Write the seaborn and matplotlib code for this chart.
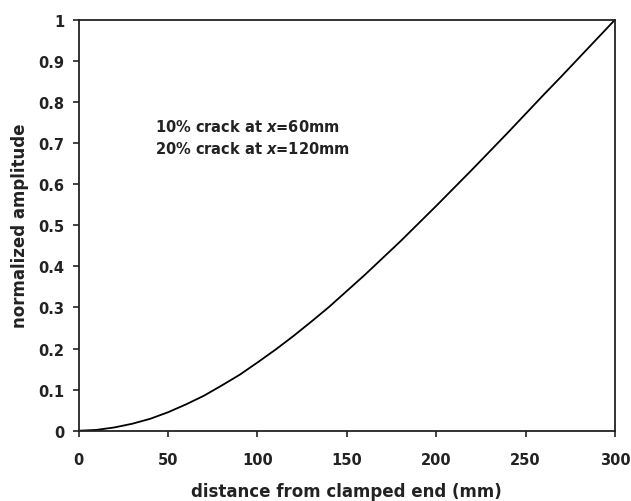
import matplotlib
matplotlib.use("Agg")
import matplotlib.pyplot as plt
import seaborn as sns
import pandas as pd

# distance from clamped end (mm)
distance_mm = [0, 10, 20, 30, 40, 50, 60, 70, 80, 90, 100, 110, 120, 130, 140, 150,
               160, 170, 180, 190, 200, 210, 220, 230, 240, 250, 260, 270, 280, 290, 300]
# normalized amplitude
amplitude = [0.000, 0.002, 0.008, 0.017, 0.029, 0.045, 0.064, 0.085, 0.110, 0.136, 0.166,
             0.197, 0.230, 0.265, 0.301, 0.340, 0.379, 0.420, 0.461, 0.504, 0.547, 0.591,
             0.635, 0.680, 0.725, 0.771, 0.817, 0.862, 0.908, 0.954, 1.000]
x_ticks = [0, 50, 100, 150, 200, 250, 300]
y_ticks = [0, 0.1, 0.2, 0.3, 0.4, 0.5, 0.6, 0.7, 0.8, 0.9, 1]
y_tick_labels = ["0", "0.1", "0.2", "0.3", "0.4", "0.5", "0.6", "0.7", "0.8", "0.9", "1"]

sns.set_style("ticks")
plt.rcParams["font.family"] = ["DejaVu Sans"]
plt.rcParams["font.weight"] = "bold"
plt.rcParams["mathtext.fontset"] = "dejavusans"

df = pd.DataFrame({"distance": distance_mm, "amp": amplitude})

fig = plt.figure(figsize=(6.31, 5.02), dpi=100)
ax = fig.add_axes([0.1247, 0.140, 0.850, 0.8188])
sns.lineplot(data=df, x="distance", y="amp", ax=ax, color="black", linewidth=1.3)

ax.set_xlim(0, 300)
ax.set_ylim(0, 1)
ax.set_xticks(x_ticks)
ax.set_xticklabels([str(t) for t in x_ticks])
ax.set_yticks(y_ticks)
ax.set_yticklabels(y_tick_labels)
for s in ax.spines.values():
    s.set_visible(True)
    s.set_linewidth(1.3)
    s.set_color("#222222")
ax.tick_params(direction="out", length=4.3, width=1.2, color="#222222",
               labelsize=10.5, labelcolor="#222222")
ax.tick_params(axis="x", pad=11)
ax.tick_params(axis="y", pad=6)
for lbl in ax.get_xticklabels() + ax.get_yticklabels():
    lbl.set_fontweight("bold")

ax.set_xlabel("distance from clamped end (mm)", fontsize=12, fontweight="bold",
              color="#222222", labelpad=11)
ax.set_ylabel("normalized amplitude", fontsize=12, fontweight="bold",
              color="#222222", labelpad=7)

ax.text(42.7, 0.741, r"10% crack at $\boldsymbol{x}$=60mm", fontsize=10.5,
        fontweight="bold", color="#222222", va="center", ha="left")
ax.text(42.7, 0.688, r"20% crack at $\boldsymbol{x}$=120mm", fontsize=10.5,
        fontweight="bold", color="#222222", va="center", ha="left")

fig.savefig("out.png", dpi=100)
